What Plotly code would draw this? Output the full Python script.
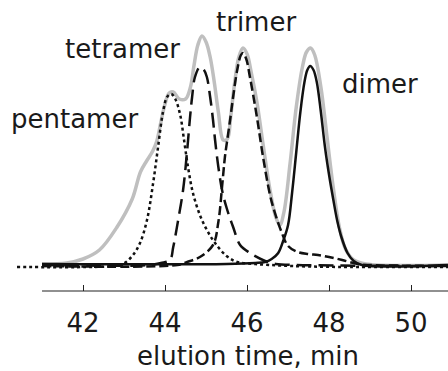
import plotly.graph_objects as go

# Elution profiles (detector signal, arbitrary units) vs. time in minutes
total_t = [41.0, 41.6, 42.0, 42.4, 42.83, 43.2, 43.4, 43.55, 43.7, 43.8, 43.9, 44.0,
           44.1, 44.2, 44.35, 44.5, 44.62, 44.7, 44.8, 44.9, 45.0, 45.1, 45.2, 45.3,
           45.42, 45.52, 45.6, 45.7, 45.8, 45.9, 46.0, 46.1, 46.24, 46.4, 46.56, 46.7,
           46.8, 46.9, 47.05, 47.2, 47.35, 47.45, 47.55, 47.65, 47.8, 47.95, 48.1,
           48.25, 48.4, 48.6, 48.9, 50.9]
total_y = [3, 4, 8, 17, 40, 68, 95, 106, 116, 126, 145, 163,
           174, 175, 168, 168, 180, 200, 222, 231, 225, 210, 185, 155,
           127, 128, 150, 185, 210, 219, 213, 195, 165, 120, 77, 50,
           42, 55, 104, 160, 200, 215, 219, 212, 180, 130, 80,
           40, 18, 7, 3, 2]

pentamer_t = [40.39, 42.6, 42.9, 43.05, 43.22, 43.39, 43.56, 43.71, 43.83, 43.95, 44.05,
              44.15, 44.25, 44.37, 44.46, 44.56, 44.68, 44.85, 45.02, 45.22, 45.5, 45.76,
              46.2, 46.8, 47.5, 48.5, 50.9]
pentamer_y = [0, 0.5, 2, 5, 12, 24, 47, 84, 120, 155, 170,
              173, 168, 152, 128, 100, 74, 52, 37, 24, 11, 5,
              3, 1.5, 0.5, 0, 0]

tetramer_t = [41.0, 43.6, 43.9, 44.12, 44.2, 44.32, 44.44, 44.54, 44.61, 44.66, 44.73,
              44.85, 44.95, 45.02, 45.1, 45.17, 45.22, 45.3, 45.4, 45.51, 45.66, 45.83,
              46.07, 46.44, 46.7, 47.2, 50.9]
tetramer_y = [2, 2, 4, 7, 20, 47, 77, 117, 150, 170, 190,
              200, 197, 190, 170, 147, 127, 100, 75, 58, 40, 22,
              14, 6, 3, 2, 1]

trimer_t = [41.0, 44.3, 44.54, 44.85, 45.17, 45.3, 45.39, 45.46, 45.51, 45.59, 45.66,
            45.76, 45.85, 45.9, 45.98, 46.07, 46.24, 46.39, 46.56, 46.68, 46.85, 47.0,
            47.24, 47.5, 47.73, 48.0, 48.32, 48.7, 49.0, 50.9]
trimer_y = [1, 2, 5, 10, 22, 45, 80, 110, 125, 148, 170,
            197, 212, 214, 208, 190, 150, 110, 72, 54, 34, 21,
            15, 13, 12, 10, 7, 3, 2, 1]

dimer_t = [41.0, 45.5, 46.2, 46.44, 46.6, 46.76, 46.88, 47.0, 47.1, 47.2, 47.3, 47.4,
           47.47, 47.54, 47.62, 47.7, 47.8, 47.9, 48.0, 48.1, 48.2, 48.3, 48.45, 48.6,
           48.8, 50.9]
dimer_y = [3, 3, 4, 5, 8, 14, 26, 42, 75, 115, 155, 185,
           197, 201, 197, 185, 155, 120, 92, 68, 46, 30, 14, 6,
           2, 2]

tick_vals = [42, 44, 46, 48, 50]
tick_text = ["42", "44", "46", "48", "50"]

# Oligomer labels: (text, time, signal level)
label_text = ["pentamer", "tetramer", "trimer", "dimer"]
label_t = [41.79, 42.96, 46.22, 49.24]
label_y = [148, 218, 245, 183]

FONT = "DejaVu Sans"
INK = "#111111"

fig = go.Figure()

fig.add_trace(go.Scatter(x=total_t, y=total_y, mode="lines",
                         line=dict(color="#bfbfbf", width=3.5, shape="spline"),
                         name="total"))
fig.add_trace(go.Scatter(x=pentamer_t, y=pentamer_y, mode="lines",
                         line=dict(color=INK, width=2.5, dash="3px,3px", shape="spline"),
                         name="pentamer"))
fig.add_trace(go.Scatter(x=tetramer_t, y=tetramer_y, mode="lines",
                         line=dict(color=INK, width=2.5, dash="15px,7px", shape="spline"),
                         name="tetramer"))
fig.add_trace(go.Scatter(x=trimer_t, y=trimer_y, mode="lines",
                         line=dict(color=INK, width=2.5, dash="9px,4px", shape="spline"),
                         name="trimer"))
fig.add_trace(go.Scatter(x=dimer_t, y=dimer_y, mode="lines",
                         line=dict(color=INK, width=2.5, shape="spline"),
                         name="dimer"))

for txt, tx, ty in zip(label_text, label_t, label_y):
    fig.add_annotation(x=tx, y=ty, xref="x", yref="y", text=txt, showarrow=False,
                       xanchor="center", yanchor="middle",
                       font=dict(family=FONT, size=26, color="#1a1a1a"))

fig.add_annotation(x=46.02, y=-0.24, xref="x", yref="paper", text="elution time, min",
                   showarrow=False, xanchor="center", yanchor="middle",
                   font=dict(family=FONT, size=26, color="#1a1a1a"))

# x-axis baseline starting at 41 min
fig.add_shape(type="line", xref="x", yref="paper", x0=41.0, x1=50.9, y0=0, y1=0,
              line=dict(color="#222222", width=1.2))

fig.update_layout(
    width=448, height=371,
    margin=dict(l=17, r=0, t=20, b=80),
    paper_bgcolor="white", plot_bgcolor="white",
    showlegend=False,
    xaxis=dict(range=[40.39, 50.9], showgrid=False, zeroline=False, showline=False,
               tickvals=tick_vals, ticktext=tick_text, ticks="inside", ticklen=6,
               tickwidth=1, tickcolor="#222222", ticklabelstandoff=14,
               tickfont=dict(family=FONT, size=26, color="#1a1a1a")),
    yaxis=dict(range=[-24, 247], visible=False),
)

fig.write_html("out.html")
